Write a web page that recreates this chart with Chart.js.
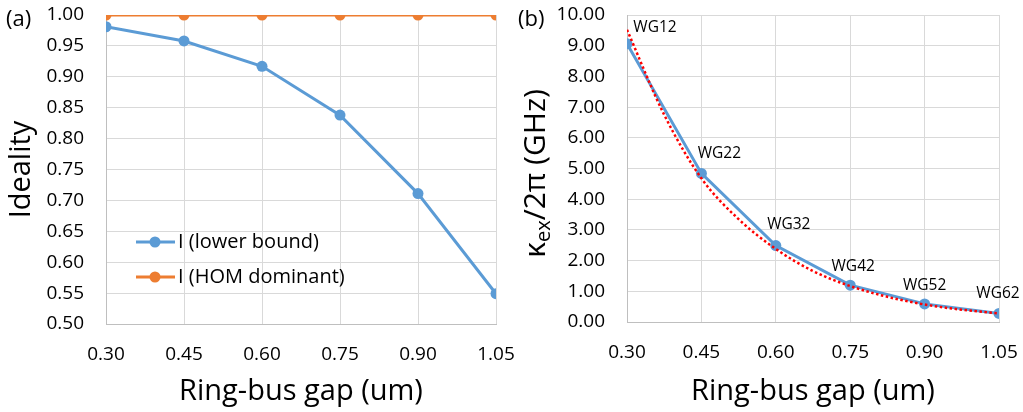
<!DOCTYPE html>
<html>
<head>
<meta charset="utf-8">
<script src="https://cdn.jsdelivr.net/npm/chart.js@4.4.1/dist/chart.umd.min.js"></script>
<style>
  body { margin: 0; background: #fff; width: 1023px; height: 412px; position: relative; overflow: hidden; }
  #boxA { position: absolute; left: 0; top: 0; width: 518px; height: 412px; }
  #boxB { position: absolute; left: 512px; top: 0; width: 511px; height: 412px; }
</style>
</head>
<body>
<div id="boxA"><canvas id="chartA"></canvas></div>
<div id="boxB"><canvas id="chartB"></canvas></div>
<script>
// ring-bus gap (um)
const gaps = [0.30, 0.45, 0.60, 0.75, 0.90, 1.05];

// (a) ideality
const idealityLower = [0.981, 0.958, 0.917, 0.838, 0.711, 0.549];
const idealityHom = [1.00, 1.00, 1.00, 1.00, 1.00, 1.00];
const idealityTicks = [0.50, 0.55, 0.60, 0.65, 0.70, 0.75, 0.80, 0.85, 0.90, 0.95, 1.00];

// (b) external coupling rate kappa_ex/2pi (GHz)
const wgNames = ['WG12', 'WG22', 'WG32', 'WG42', 'WG52', 'WG62'];
const kappaEx = [9.06, 4.84, 2.49, 1.20, 0.59, 0.28];
const fitGaps = [0.30, 0.375, 0.45, 0.525, 0.60, 0.675, 0.75, 0.825, 0.90, 0.975, 1.05];
const kappaFit = [9.52, 6.75, 4.68, 3.35, 2.38, 1.66, 1.17, 0.82, 0.57, 0.40, 0.28];
const kappaTicks = [0, 1, 2, 3, 4, 5, 6, 7, 8, 9, 10];

const FONT = "'Open Sans', sans-serif";
const BLUE = '#5b9bd5', ORANGE = '#ed7d31';
const GRID = '#d9d9d9', AXIS = '#bfbfbf';

// shift of each WG label from its point (px)
const wgLabelShift = [[28, -16], [18, -20], [13, -21], [3, -19], [0, -18], [-1, -20]];

function xScale(height) {
    return {
        type: 'linear', min: gaps[0], max: gaps[gaps.length - 1],
        afterBuildTicks: s => { s.ticks = gaps.map(v => ({ value: v })); },
        afterFit: s => { s.height = height; s.paddingLeft = 0; s.paddingRight = 0; },
        grid: { color: GRID, drawTicks: false },
        border: { color: AXIS },
        ticks: { padding: 19, color: '#000', font: { family: FONT, size: 19 }, maxRotation: 0, callback: v => v.toFixed(2) },
        title: { display: true, text: 'Ring-bus gap (um)', color: '#000', font: { family: FONT, size: 29 }, padding: { top: 0, bottom: 3 } }
    };
}

function yScale(min, max, ticks, width) {
    return {
        min: min, max: max,
        afterBuildTicks: s => { s.ticks = ticks.map(v => ({ value: v })); },
        afterFit: s => { s.width = width; s.paddingTop = 0; s.paddingBottom = 0; },
        grid: { color: GRID, drawTicks: false },
        border: { color: AXIS },
        ticks: { padding: 22, color: '#000', font: { family: FONT, size: 19 }, callback: v => v.toFixed(2) }
    };
}

// panel letter in the top left corner
function panelTag(text) {
    return {
        id: 'tag',
        afterDraw(chart) {
            const ctx = chart.ctx;
            ctx.save();
            ctx.font = `22px ${FONT}`;
            ctx.fillStyle = '#000';
            ctx.textBaseline = 'middle';
            ctx.fillText(text, 6, 20);
            ctx.restore();
        }
    };
}

// legend inside the plot area of (a)
const innerLegend = {
    id: 'innerLegend',
    afterDraw(chart) {
        const ctx = chart.ctx, a = chart.chartArea;
        const x0 = a.left + 30, rows = [a.top + 227, a.top + 262];
        ctx.save();
        ctx.font = `20px ${FONT}`;
        ctx.textBaseline = 'middle';
        chart.data.datasets.forEach((ds, i) => {
            const y = rows[i];
            ctx.strokeStyle = ds.borderColor;
            ctx.lineWidth = 3;
            ctx.beginPath(); ctx.moveTo(x0, y); ctx.lineTo(x0 + 39, y); ctx.stroke();
            ctx.fillStyle = ds.borderColor;
            ctx.beginPath(); ctx.arc(x0 + 19, y, 5.5, 0, Math.PI * 2); ctx.fill();
            ctx.fillStyle = '#000';
            ctx.fillText(ds.label, x0 + 42, y);
        });
        ctx.restore();
    }
};

// y title with subscript for (b)
const kappaTitle = {
    id: 'kappaTitle',
    afterDraw(chart) {
        const ctx = chart.ctx, a = chart.chartArea;
        const big = `30px ${FONT}`, small = `20px ${FONT}`;
        const parts = [['κ', big, 0], ['ex', small, 5], ['/2π (GHz)', big, 0]];
        ctx.save();
        let total = 0;
        parts.forEach(p => { ctx.font = p[1]; total += ctx.measureText(p[0]).width; });
        ctx.translate(33, (a.top + a.bottom) / 2 + 5);
        ctx.rotate(-Math.PI / 2);
        ctx.fillStyle = '#000';
        ctx.textBaseline = 'alphabetic';
        let x = -total / 2;
        parts.forEach(p => {
            ctx.font = p[1];
            ctx.fillText(p[0], x, p[2]);
            x += ctx.measureText(p[0]).width;
        });
        ctx.restore();
    }
};

// WG names above the measured points
const wgLabels = {
    id: 'wgLabels',
    afterDatasetsDraw(chart) {
        const ctx = chart.ctx, meta = chart.getDatasetMeta(1);
        ctx.save();
        ctx.font = `15.5px ${FONT}`;
        ctx.fillStyle = '#000';
        ctx.textAlign = 'center';
        ctx.textBaseline = 'middle';
        meta.data.forEach((pt, i) => {
            ctx.fillText(wgNames[i], pt.x + wgLabelShift[i][0], pt.y + wgLabelShift[i][1]);
        });
        ctx.restore();
    }
};

const common = {
    responsive: true, maintainAspectRatio: false, animation: false,
    plugins: { legend: { display: false }, tooltip: { enabled: false } }
};

new Chart(document.getElementById('chartA'), {
    type: 'line',
    data: {
        datasets: [
            { label: 'I (lower bound)', data: gaps.map((g, i) => ({ x: g, y: idealityLower[i] })), borderColor: BLUE, backgroundColor: BLUE, borderWidth: 3, pointRadius: 5.5, pointBorderWidth: 0 },
            { label: 'I (HOM dominant)', data: gaps.map((g, i) => ({ x: g, y: idealityHom[i] })), borderColor: ORANGE, backgroundColor: ORANGE, borderWidth: 3, pointRadius: 5.5, pointBorderWidth: 0 }
        ]
    },
    options: {
        ...common,
        layout: { padding: { left: 0, right: 22, top: 15, bottom: 0 } },
        scales: {
            x: xScale(88),
            y: { ...yScale(0.5, 1.0, idealityTicks, 106), title: { display: true, text: 'Ideality', color: '#000', font: { family: FONT, size: 29 }, padding: { top: 4, bottom: 0 } } }
        }
    },
    plugins: [panelTag('(a)'), innerLegend]
});

new Chart(document.getElementById('chartB'), {
    type: 'line',
    data: {
        datasets: [
            { label: 'fit', data: fitGaps.map((g, i) => ({ x: g, y: kappaFit[i] })), borderColor: '#ff0000', borderWidth: 2.5, borderDash: [2.5, 2.5], borderCapStyle: 'butt', pointRadius: 0, cubicInterpolationMode: 'monotone', order: 0 },
            { label: 'kappa', data: gaps.map((g, i) => ({ x: g, y: kappaEx[i] })), borderColor: BLUE, backgroundColor: BLUE, borderWidth: 3, pointRadius: 5.5, pointBorderWidth: 0, order: 1 }
        ]
    },
    options: {
        ...common,
        layout: { padding: { left: 0, right: 24, top: 15, bottom: 0 } },
        scales: {
            x: xScale(90),
            y: yScale(0, 10, kappaTicks, 115)
        }
    },
    plugins: [panelTag('(b)'), kappaTitle, wgLabels]
});
</script>
</body>
</html>
